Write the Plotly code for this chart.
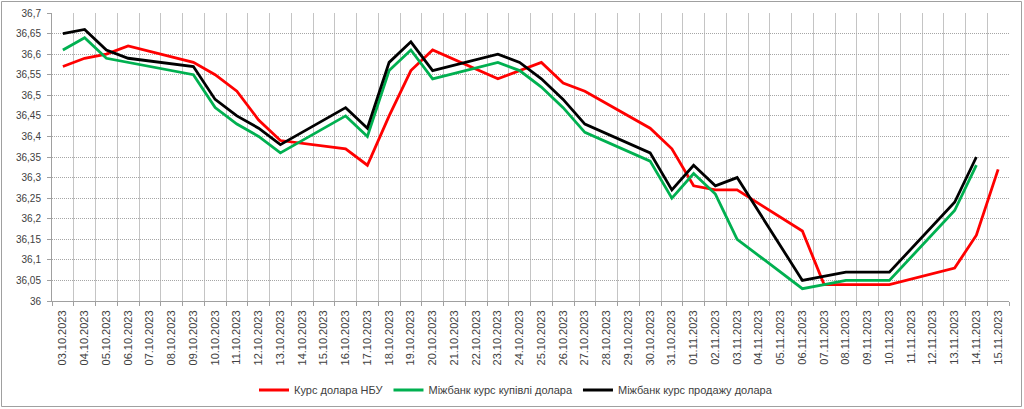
import plotly.graph_objects as go

dates = ["03.10.2023", "04.10.2023", "05.10.2023", "06.10.2023", "07.10.2023", "08.10.2023",
         "09.10.2023", "10.10.2023", "11.10.2023", "12.10.2023", "13.10.2023", "14.10.2023",
         "15.10.2023", "16.10.2023", "17.10.2023", "18.10.2023", "19.10.2023", "20.10.2023",
         "21.10.2023", "22.10.2023", "23.10.2023", "24.10.2023", "25.10.2023", "26.10.2023",
         "27.10.2023", "28.10.2023", "29.10.2023", "30.10.2023", "31.10.2023", "01.11.2023",
         "02.11.2023", "03.11.2023", "04.11.2023", "05.11.2023", "06.11.2023", "07.11.2023",
         "08.11.2023", "09.11.2023", "10.11.2023", "11.11.2023", "12.11.2023", "13.11.2023",
         "14.11.2023", "15.11.2023"]

nbu = [36.57, 36.59, 36.60, 36.62, None, None, 36.58, 36.55, 36.51, 36.44, 36.39, None, None,
       36.37, 36.33, 36.45, 36.56, 36.61, None, None, 36.54, 36.56, 36.58, 36.53, 36.51, None, None,
       36.42, 36.37, 36.28, 36.27, 36.27, None, None, 36.17, 36.04, 36.04, 36.04, 36.04, None, None,
       36.08, 36.16, 36.32]

buy = [36.61, 36.64, 36.59, 36.58, None, None, 36.55, 36.47, 36.43, 36.40, 36.36, None, None,
       36.45, 36.40, 36.56, 36.61, 36.54, None, None, 36.58, 36.56, 36.52, 36.47, 36.41, None, None,
       36.34, 36.25, 36.31, 36.26, 36.15, None, None, 36.03, 36.04, 36.05, 36.05, 36.05, None, None,
       36.22, 36.33, None]

sell = [36.65, 36.66, 36.61, 36.59, None, None, 36.57, 36.49, 36.45, 36.42, 36.38, None, None,
        36.47, 36.42, 36.58, 36.63, 36.56, None, None, 36.60, 36.58, 36.54, 36.49, 36.43, None, None,
        36.36, 36.27, 36.33, 36.28, 36.30, None, None, 36.05, 36.06, 36.07, 36.07, 36.07, None, None,
        36.24, 36.35, None]

series_names = ["Курс долара НБУ", "Міжбанк курс купівлі долара", "Міжбанк курс продажу долара"]
series_colors = ["#FF0000", "#00B050", "#000000"]

ytick_vals = [36.0, 36.05, 36.1, 36.15, 36.2, 36.25, 36.3, 36.35, 36.4, 36.45, 36.5, 36.55,
              36.6, 36.65, 36.7]
ytick_text = ["36", "36,05", "36,1", "36,15", "36,2", "36,25", "36,3", "36,35", "36,4",
              "36,45", "36,5", "36,55", "36,6", "36,65", "36,7"]

fig = go.Figure()
for name, vals, col in zip(series_names, [nbu, buy, sell], series_colors):
    fig.add_trace(go.Scatter(x=dates, y=vals, name=name, mode="lines", connectgaps=True,
                             line=dict(color=col, width=2.8)))

L, R, T, B = 52, 15, 13, 108
W, H = 1024, 409
pw, ph = W - L - R, H - T - B

def px_x(px):
    return (px - L) / pw

def px_y(py):
    return (H - B - py) / ph

fig.update_layout(
    width=W, height=H,
    margin=dict(l=L, r=R, t=T, b=B, autoexpand=False),
    paper_bgcolor="white", plot_bgcolor="white",
    font=dict(family="Liberation Sans", size=10, color="#404040"),
    showlegend=True,
    legend=dict(orientation="h", x=px_x(516), xanchor="center", y=px_y(390), yanchor="middle",
                font=dict(size=11, color="#404040"), itemwidth=30, tracegroupgap=0),
    xaxis=dict(type="category", range=[-0.5, len(dates) - 0.5], tickson="boundaries",
               showgrid=True, gridcolor="#c4c4c4", gridwidth=1,
               ticks="outside", ticklen=4, tickcolor="#a0a0a0",
               showline=True, linecolor="#a0a0a0", linewidth=1,
               tickangle=-90, ticklabelstandoff=4, automargin=False,
               tickfont=dict(size=11, color="#404040"), fixedrange=True),
    yaxis=dict(range=[36.0, 36.7], tickvals=ytick_vals, ticktext=ytick_text,
               showgrid=True, gridcolor="#a6a6a6", griddash="1px,1px", gridwidth=1,
               ticks="outside", ticklen=4, tickcolor="#a0a0a0",
               showline=True, linecolor="#a0a0a0", linewidth=1, zeroline=False,
               automargin=False, ticklabelstandoff=4,
               tickfont=dict(size=10, color="#404040"), fixedrange=True),
)

fig.add_shape(type="rect", xref="paper", yref="paper",
              x0=px_x(1.5), x1=px_x(1021.5), y0=px_y(406.5), y1=px_y(1.5),
              line=dict(color="#a0a0a0", width=1), layer="below")

fig.write_html("out.html")
